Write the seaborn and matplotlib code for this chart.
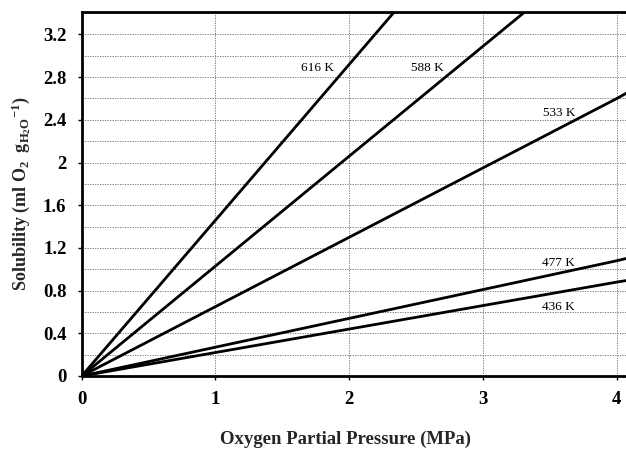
import numpy as np
import pandas as pd
import matplotlib
matplotlib.use("Agg")
import matplotlib.pyplot as plt
from matplotlib.ticker import MultipleLocator
import seaborn as sns

# ── Data ──────────────────────────────────────────────────────────────────────
PRESSURE = [0.0, 1.0, 2.0, 3.0, 4.0, 4.1]          # MPa
SOL_616  = [0.0, 1.46, 2.92, 4.38, 5.84, 5.99]     # ml O2 / g H2O
SOL_588  = [0.0, 1.03, 2.06, 3.09, 4.12, 4.22]
SOL_533  = [0.0, 0.65, 1.30, 1.95, 2.60, 2.67]
SOL_477  = [0.0, 0.27, 0.54, 0.81, 1.08, 1.11]
SOL_436  = [0.0, 0.22, 0.44, 0.66, 0.88, 0.90]

LABELS   = ["616 K", "588 K", "533 K", "477 K", "436 K"]
LABEL_X  = [1.76, 2.58, 3.57, 3.56, 3.56]
LABEL_Y  = [2.89, 2.89, 2.46, 1.06, 0.65]

sns.set_theme(style="ticks")
plt.rcParams["font.family"] = ["Liberation Serif", "DejaVu Serif"]
plt.rcParams["mathtext.default"] = "regular"

df = pd.DataFrame({
    "pressure": PRESSURE * 5,
    "solubility": SOL_616 + SOL_588 + SOL_533 + SOL_477 + SOL_436,
    "temp": sum([[lab] * len(PRESSURE) for lab in LABELS], []),
})

fig = plt.figure(figsize=(6.26, 4.51), dpi=100)
ax = fig.add_axes([0.1305, 0.1663, 0.8695, 0.8071])

sns.lineplot(data=df, x="pressure", y="solubility", hue="temp",
             palette=["black"] * 5, linewidth=2.0, legend=False, ax=ax)

ax.set_xlim(0, 4.068)
ax.set_ylim(0, 3.41)

ax.xaxis.set_major_locator(MultipleLocator(1))
ax.yaxis.set_major_locator(MultipleLocator(0.4))
ax.yaxis.set_minor_locator(MultipleLocator(0.2))
ax.set_yticklabels([f"{v:g}" for v in ax.get_yticks()])

ax.grid(which="both", axis="y", linestyle=(0, (1.5, 1.5)), color="#666666", linewidth=0.6)
ax.grid(which="major", axis="x", linestyle=(0, (1.5, 1.5)), color="#666666", linewidth=0.6)
ax.tick_params(which="minor", left=False)
ax.tick_params(which="major", direction="out", length=3, width=1, colors="black",
               labelsize=13.5, pad=8)
for lab in ax.get_xticklabels() + ax.get_yticklabels():
    lab.set_fontweight("bold")

for side in ["left", "bottom", "top"]:
    ax.spines[side].set_linewidth(2.0)
    ax.spines[side].set_color("black")
ax.spines["right"].set_visible(False)

for txt, x, y in zip(LABELS, LABEL_X, LABEL_Y):
    ax.text(x, y, txt, ha="center", va="center", fontsize=9.5, color="black")

ax.set_xlabel("Oxygen Partial Pressure (MPa)", fontsize=13.5, fontweight="bold")
ax.xaxis.set_label_coords(0.485, -0.15)
ax.set_ylabel(r"Solubility (ml O$_2$  g$_{H_2O}$$^{-1}$)", fontsize=13,
              fontweight="bold")
ax.yaxis.set_label_coords(-0.09, 0.50)

fig.savefig("out.png", dpi=100)
